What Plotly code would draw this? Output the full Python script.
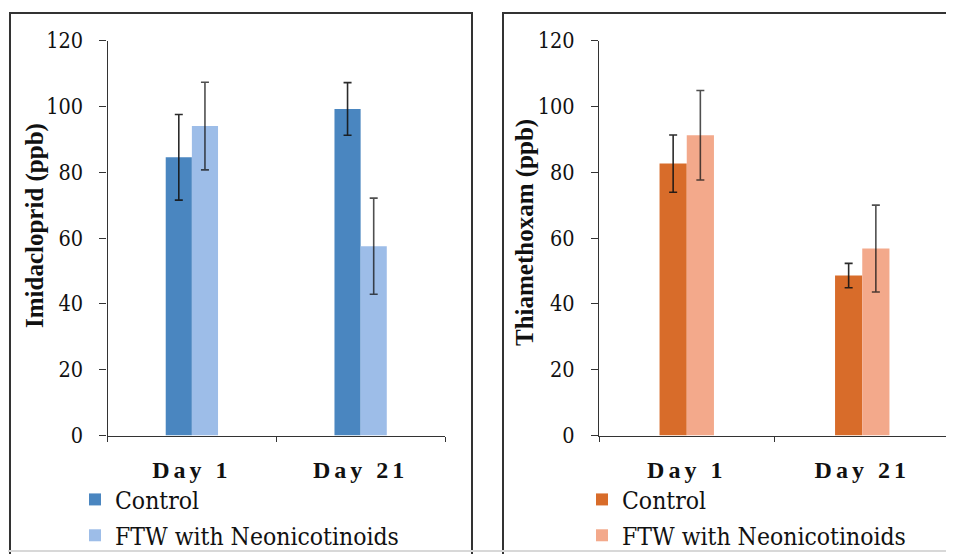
import plotly.graph_objects as go

# page body has an 8px margin, so the figure starts at (8, 8) in the window
OFF = 8
W, H = 954 - OFF, 554 - OFF

categories = ["Day 1", "Day 21"]
series_names = ["Control", "FTW with Neonicotinoids"]

imid_control = [84.5, 99.2]
imid_control_err = [13.0, 8.0]
imid_ftw = [94.0, 57.5]
imid_ftw_err = [13.3, 14.6]

thia_control = [82.6, 48.6]
thia_control_err = [8.7, 3.7]
thia_ftw = [91.2, 56.8]
thia_ftw_err = [13.6, 13.2]

y_ticks = [0, 20, 40, 60, 80, 100, 120]

blue_dark = "#4a86c0"
blue_light = "#9dbde8"
orange_dark = "#d86c2a"
orange_light = "#f3a98b"

FONT_BOLD = "Liberation Serif"
FONT_REG = "DejaVu Serif Condensed, DejaVu Serif"

def px_x(p):
    return (p - OFF) / W

def px_y(p):
    return 1 - (p - OFF) / H

fig = go.Figure()

def add_bar(x, y, err, name, color, xa, ya, legend, group, errcolor):
    fig.add_trace(go.Bar(
        x=x, y=y, name=name, marker=dict(color=color, line=dict(width=0)),
        error_y=dict(type="data", array=err, visible=True, color=errcolor,
                     thickness=1.6, width=4),
        xaxis=xa, yaxis=ya, legend=legend, legendgroup=group,
    ))

add_bar(categories, imid_control, imid_control_err, series_names[0], blue_dark, "x", "y", "legend", "a", "rgba(20,20,20,0.9)")
add_bar(categories, imid_ftw, imid_ftw_err, series_names[1], blue_light, "x", "y", "legend", "b", "rgba(20,20,20,0.75)")
add_bar(categories, thia_control, thia_control_err, series_names[0], orange_dark, "x2", "y2", "legend2", "c", "rgba(20,20,20,0.9)")
add_bar(categories, thia_ftw, thia_ftw_err, series_names[1], orange_light, "x2", "y2", "legend2", "d", "rgba(20,20,20,0.75)")

ydom = [px_y(435.5), px_y(40.5)]

tick_text = ['<span style="letter-spacing:4px">%s</span>' % c for c in categories]

xaxis_common = dict(
    type="category", showline=True, linecolor="#333", linewidth=1.3,
    ticks="outside", tickson="boundaries", ticklen=5, tickcolor="#333",
    tickvals=categories, ticktext=tick_text, ticklabelstandoff=13,
    tickfont=dict(family=FONT_BOLD, size=24, color="#111", weight="bold"),
    showgrid=False, zeroline=False, fixedrange=True,
)
yaxis_common = dict(
    range=[0, 120], tickvals=y_ticks, showline=True, linecolor="#333", linewidth=1.3,
    ticks="outside", ticklen=7, tickcolor="#333", ticklabelstandoff=12,
    tickfont=dict(family=FONT_REG, size=21.5, color="#111"),
    showgrid=False, zeroline=False, fixedrange=True, domain=ydom,
)

legend_common = dict(
    xanchor="left", yanchor="top",
    font=dict(family=FONT_REG, size=24.5, color="#111"),
    tracegroupgap=1, bgcolor="rgba(0,0,0,0)", itemwidth=30,
)

fig.update_layout(
    width=W, height=H,
    font=dict(family=FONT_REG, color="#111"),
    margin=dict(l=0, r=0, t=0, b=0, autoexpand=False),
    paper_bgcolor="white", plot_bgcolor="white",
    barmode="group", bargap=0.69, bargroupgap=0,
    xaxis=dict(domain=[px_x(107.5), px_x(445)], anchor="y", **xaxis_common),
    yaxis=dict(anchor="x", **yaxis_common),
    xaxis2=dict(domain=[px_x(599), px_x(950)], anchor="y2", **xaxis_common),
    yaxis2=dict(anchor="x2", **yaxis_common),
    legend=dict(x=px_x(75), y=px_y(477), **legend_common),
    legend2=dict(x=px_x(582), y=px_y(477), **legend_common),
    showlegend=True,
)

# y-axis titles
fig.add_annotation(text="<b>Imidacloprid (ppb)</b>", textangle=-90,
                   x=px_x(35), y=px_y(226), xref="paper", yref="paper",
                   xanchor="center", yanchor="middle",
                   showarrow=False, font=dict(family=FONT_BOLD, size=25, color="#111"))
fig.add_annotation(text="<b>Thiamethoxam (ppb)</b>", textangle=-90,
                   x=px_x(525), y=px_y(233), xref="paper", yref="paper",
                   xanchor="center", yanchor="middle",
                   showarrow=False, font=dict(family=FONT_BOLD, size=25, color="#111"))

# panel borders
for x0, x1 in [(10, 472), (503, 970)]:
    fig.add_shape(type="path", xref="paper", yref="paper",
                  path="M %f,%f L %f,%f L %f,%f L %f,%f" % (
                      px_x(x0), px_y(560), px_x(x0), px_y(13),
                      px_x(x1), px_y(13), px_x(x1), px_y(560)),
                  line=dict(color="#333", width=2), layer="below")
fig.add_shape(type="line", xref="paper", yref="paper",
              x0=0, x1=1, y0=px_y(551), y1=px_y(551),
              line=dict(color="#d8d8d8", width=2), layer="below")

fig.write_html("out.html")
